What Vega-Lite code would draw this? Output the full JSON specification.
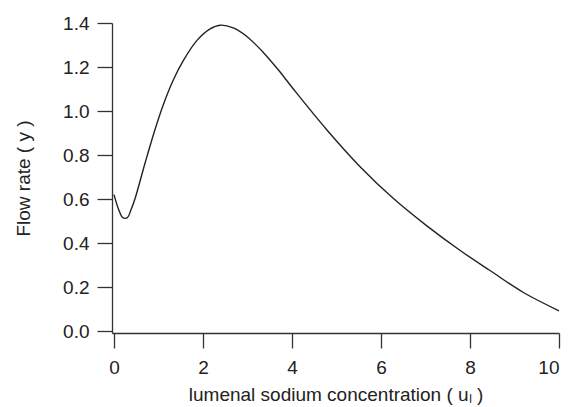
{
  "$schema": "https://vega.github.io/schema/vega-lite/v6.json",
  "autosize": "none",
  "padding": {"left": 112, "top": 23, "right": 12, "bottom": 74},
  "width": 447,
  "height": 310,
  "background": "white",
  "config": {
    "view": {"stroke": null},
    "font": "Liberation Sans",
    "axis": {
      "grid": false,
      "domainColor": "#333333",
      "domainWidth": 1.3,
      "tickColor": "#333333",
      "tickWidth": 1.3,
      "tickSize": 15,
      "labelFont": "Liberation Sans",
      "labelFontSize": 19,
      "labelColor": "#222222",
      "titleFont": "Liberation Sans",
      "titleFontSize": 19,
      "titleFontWeight": "normal",
      "titleColor": "#222222"
    }
  },
  "data": {
    "values": [
      {"u": 0, "flow": 0.62},
      {"u": 0.1, "flow": 0.555},
      {"u": 0.2, "flow": 0.515},
      {"u": 0.3, "flow": 0.515},
      {"u": 0.38, "flow": 0.55},
      {"u": 0.47, "flow": 0.60},
      {"u": 0.70, "flow": 0.765},
      {"u": 0.92, "flow": 0.915},
      {"u": 1.11, "flow": 1.03},
      {"u": 1.33, "flow": 1.14},
      {"u": 1.56, "flow": 1.23},
      {"u": 1.86, "flow": 1.32},
      {"u": 2.16, "flow": 1.373},
      {"u": 2.38, "flow": 1.39},
      {"u": 2.68, "flow": 1.378},
      {"u": 2.98, "flow": 1.34},
      {"u": 3.36, "flow": 1.265},
      {"u": 3.70, "flow": 1.185},
      {"u": 4.03, "flow": 1.1},
      {"u": 4.78, "flow": 0.915},
      {"u": 5.53, "flow": 0.747},
      {"u": 6.28, "flow": 0.602},
      {"u": 7.03, "flow": 0.478},
      {"u": 7.78, "flow": 0.366},
      {"u": 8.45, "flow": 0.275},
      {"u": 9.20, "flow": 0.175},
      {"u": 10, "flow": 0.092}
    ]
  },
  "mark": {"type": "line", "interpolate": "catmull-rom", "color": "#222222", "strokeWidth": 1.4},
  "encoding": {
    "x": {
      "field": "u",
      "type": "quantitative",
      "scale": {"domain": [-0.045, 10], "nice": false, "zero": false},
      "axis": {
        "values": [0, 2, 4, 6, 8, 10],
        "format": "d",
        "labelPadding": 10,
        "title": "lumenal sodium concentration ( uₗ )",
        "titlePadding": 8
      }
    },
    "y": {
      "field": "flow",
      "type": "quantitative",
      "scale": {"domain": [-0.009, 1.4], "nice": false, "zero": false},
      "axis": {
        "values": [0, 0.2, 0.4, 0.6, 0.8, 1.0, 1.2, 1.4],
        "format": ".1f",
        "labelPadding": 8,
        "title": "Flow rate ( y )",
        "titlePadding": 29
      }
    }
  }
}
